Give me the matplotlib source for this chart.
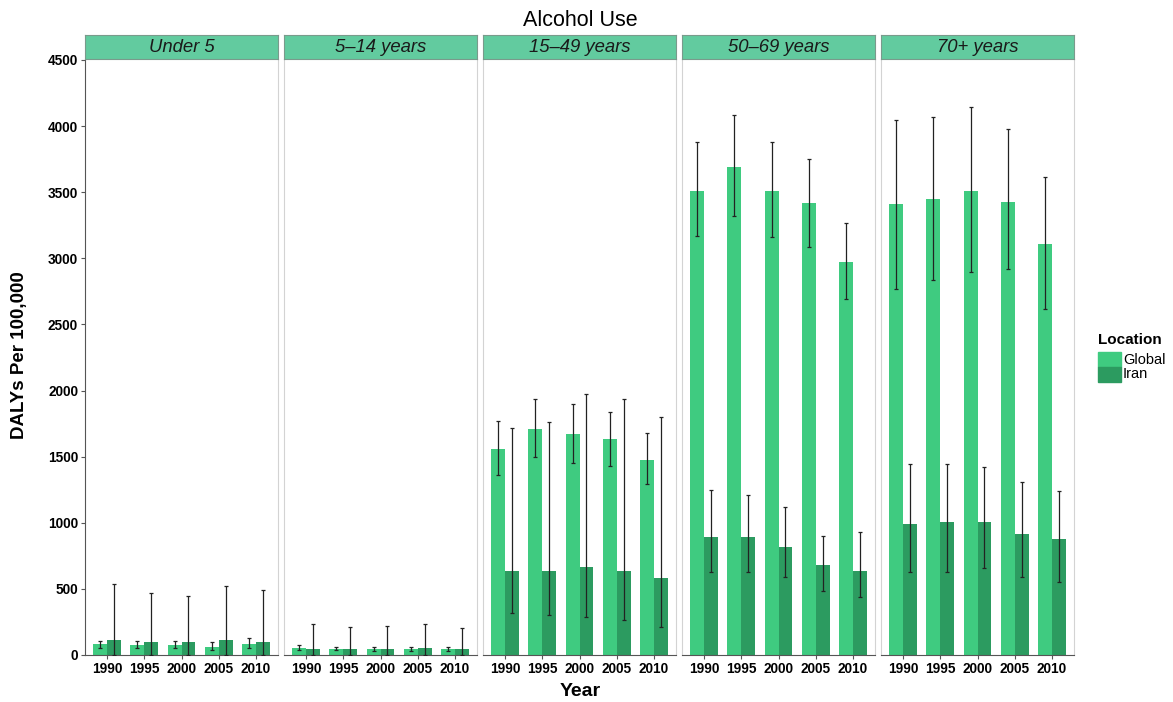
import matplotlib
matplotlib.use('Agg')
import matplotlib.pyplot as plt
import matplotlib.patches as mpatches
import numpy as np

plt.rcParams['font.family'] = ['Liberation Sans', 'DejaVu Sans']

# data
years = ['1990', '1995', '2000', '2005', '2010']
ages = ['Under 5', '5\u201314 years', '15\u201349 years', '50\u201369 years', '70+ years']

global_val = [[81, 76, 76, 58, 83],
              [55, 48, 43, 43, 43],
              [1556, 1707, 1669, 1631, 1475],
              [3512, 3688, 3512, 3416, 2975],
              [3411, 3446, 3512, 3428, 3108]]
global_lo = [[50, 50, 50, 35, 50],
             [40, 36, 33, 33, 33],
             [1361, 1495, 1455, 1432, 1291],
             [3171, 3320, 3164, 3083, 2690],
             [2766, 2836, 2897, 2917, 2614]]
global_hi = [[108, 108, 108, 98, 126],
             [73, 60, 60, 60, 60],
             [1772, 1934, 1896, 1838, 1677],
             [3878, 4084, 3878, 3749, 3270],
             [4046, 4067, 4147, 3976, 3617]]

iran_val = [[113, 101, 101, 113, 98],
            [48, 43, 43, 50, 45],
            [638, 638, 663, 638, 582],
            [895, 895, 819, 681, 638],
            [991, 1008, 1008, 913, 875]]
iran_lo = [[0, 0, 0, 0, 0],
           [0, 0, 0, 0, 0],
           [315, 302, 285, 265, 214],
           [630, 630, 592, 486, 441],
           [630, 630, 656, 592, 554]]
iran_hi = [[537, 471, 446, 522, 492],
           [234, 209, 219, 232, 202],
           [1719, 1765, 1974, 1934, 1802],
           [1248, 1210, 1122, 902, 933],
           [1442, 1442, 1424, 1311, 1240]]

col_global = '#3fcb80'
col_iran = '#2c9b60'
strip_col = '#62cb9f'

W, H = 1173, 702
fig = plt.figure(figsize=(W / 100, H / 100), dpi=100)

# panel geometry in pixels
left0 = 85
pw = 193
gap = 6
ptop = 60
pbot = 655
bw = 0.375
x = np.arange(len(years))

for k, age in enumerate(ages):
    l = left0 + k * (pw + gap)
    ax = fig.add_axes([l / W, (H - pbot) / H, pw / W, (pbot - ptop) / H])
    gv = np.array(global_val[k])
    iv = np.array(iran_val[k])
    ax.bar(x - bw / 2, gv, width=bw, color=col_global, zorder=2)
    ax.bar(x + bw / 2, iv, width=bw, color=col_iran, zorder=2)
    ax.errorbar(x - bw / 2, gv,
                yerr=[gv - np.array(global_lo[k]), np.array(global_hi[k]) - gv],
                fmt='none', ecolor='#222222', elinewidth=0.9, capsize=1.5,
                capthick=0.9, zorder=3)
    ax.errorbar(x + bw / 2, iv,
                yerr=[iv - np.array(iran_lo[k]), np.array(iran_hi[k]) - iv],
                fmt='none', ecolor='#222222', elinewidth=0.9, capsize=1.5,
                capthick=0.9, zorder=3)
    ax.set_xlim(-0.6, 4.6)
    ax.set_ylim(0, 4500)
    ax.set_xticks(x)
    ax.set_xticklabels(years, fontsize=9.8, fontweight='bold')
    ax.set_yticks(np.arange(0, 4501, 500))
    ax.spines['top'].set_visible(False)
    ax.spines['bottom'].set_color('#555555')
    ax.spines['right'].set_color('#d3d3d3')
    ax.spines['left'].set_color('#d3d3d3')
    ax.tick_params(axis='x', length=3, color='#555555', pad=2)
    if k == 0:
        ax.spines['left'].set_color('#555555')
        ax.tick_params(axis='y', length=3, color='#555555', pad=2)
        ax.set_yticklabels([str(v) for v in range(0, 4501, 500)],
                           fontsize=9.8, fontweight='bold')
    else:
        ax.tick_params(axis='y', length=0, labelleft=False)

    # facet strip
    sax = fig.add_axes([l / W, (H - 59) / H, pw / W, 24 / H])
    sax.set_xticks([])
    sax.set_yticks([])
    sax.set_facecolor(strip_col)
    for s in sax.spines.values():
        s.set_color('#7a9a8c')
        s.set_linewidth(0.8)
    sax.text(0.5, 0.5, age, ha='center', va='center', fontsize=13.3,
             fontstyle='italic', color='#1a1a1a', transform=sax.transAxes)

fig.text(580 / W, 1 - 20 / H, 'Alcohol Use', ha='center', va='center', fontsize=15.5)
fig.text(580 / W, 1 - 691 / H, 'Year', ha='center', va='center', fontsize=14,
         fontweight='bold')
fig.text(20 / W, 1 - 355 / H, 'DALYs Per 100,000', ha='center', va='center',
         fontsize=13.5, fontweight='bold', rotation=90)

# legend
fig.text(1098 / W, 1 - 340 / H, 'Location', ha='left', va='center',
         fontsize=11, fontweight='bold')
for j, (lab, c) in enumerate([('Global', col_global), ('Iran', col_iran)]):
    ytop = 352 + j * 15
    fig.patches.append(mpatches.Rectangle((1098 / W, 1 - (ytop + 15) / H),
                                          23 / W, 15 / H, color=c,
                                          transform=fig.transFigure, figure=fig))
    fig.text(1123 / W, 1 - (ytop + 7.5) / H, lab, ha='left', va='center',
             fontsize=10.5)

fig.savefig('out.png', dpi=100)
